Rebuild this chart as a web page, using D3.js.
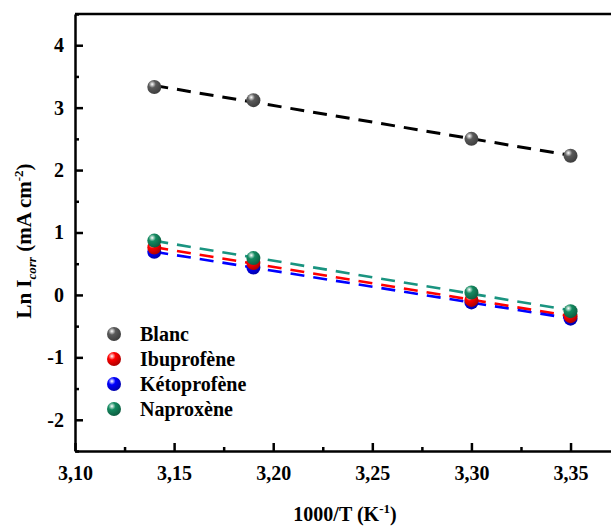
<!DOCTYPE html>
<html>
<head>
<meta charset="utf-8">
<script src="https://cdn.jsdelivr.net/npm/d3@7"></script>
<style>
    body { margin: 0; background: #fff; }
    svg { display: block; }
    text { font-family: "Liberation Serif", "Times New Roman", serif; font-weight: bold; }
</style>
</head>
<body>
<svg id="chart"></svg>
<script>
    // values
    const invT = [3.14, 3.19, 3.30, 3.35];
    const blanc = [3.33, 3.12, 2.50, 2.23];
    const ibuprofene = [0.76, 0.51, -0.08, -0.34];
    const ketoprofene = [0.69, 0.44, -0.12, -0.38];
    const naproxene = [0.87, 0.59, 0.04, -0.26];
    const seriesNames = ['Blanc', 'Ibuprofène', 'Kétoprofène', 'Naproxène'];
    const xTicks = [3.10, 3.15, 3.20, 3.25, 3.30, 3.35];
    const yTicks = [-2, -1, 0, 1, 2, 3, 4];

    (function () {
        const width = 611, height = 526;
        const svg = d3.select('#chart').attr('width', width).attr('height', height);

        const x = d3.scaleLinear().domain([3.10, 3.38]).range([75, 630]);
        const y = d3.scaleLinear().domain([-2.5, 4.5]).range([451, 14]);

        const series = [
            {name: seriesNames[0], values: blanc, color: '#5a5a5a', line: '#000000'},
            {name: seriesNames[1], values: ibuprofene, color: '#ff0000', line: '#ff0000'},
            {name: seriesNames[2], values: ketoprofene, color: '#0000ff', line: '#0000ff'},
            {name: seriesNames[3], values: naproxene, color: '#148a60', line: '#1a9480'}
        ];

        // sphere gradients
        const defs = svg.append('defs');
        series.forEach(function (s, i) {
            const g = defs.append('radialGradient')
                .attr('id', 'ball' + i)
                .attr('cx', '35%').attr('cy', '30%').attr('r', '75%');
            g.append('stop').attr('offset', '0%').attr('stop-color', '#ffffff');
            g.append('stop').attr('offset', '35%').attr('stop-color', s.color);
            g.append('stop').attr('offset', '100%').attr('stop-color', d3.color(s.color).darker(1.2));
        });

        function fit(xs, ys) {
            const mx = d3.mean(xs), my = d3.mean(ys);
            const b = d3.sum(xs, (v, i) => (v - mx) * (ys[i] - my)) / d3.sum(xs, v => (v - mx) * (v - mx));
            return {a: my - b * mx, b: b};
        }

        const isMajorX = d => xTicks.some(t => Math.abs(t - d) < 1e-6);
        const isMajorY = d => yTicks.indexOf(d) >= 0;

        // axes, ticks pointing inward
        const xAxis = d3.axisBottom(x)
            .tickValues(d3.range(3.10, 3.39, 0.025))
            .tickSizeInner(-8).tickSizeOuter(0)
            .tickFormat(d => isMajorX(d) ? d3.format('.2f')(d).replace('.', ',') : '');
        const gx = svg.append('g').attr('transform', 'translate(0,' + y(-2.5) + ')').call(xAxis);
        gx.selectAll('.tick line').attr('y2', d => isMajorX(d) ? -8 : -4);
        gx.selectAll('.tick text').attr('y', 15).style('font-size', '20px').style('font-family', null);

        const yAxis = d3.axisLeft(y)
            .tickValues(d3.range(-2.5, 4.51, 0.5))
            .tickSizeInner(-8).tickSizeOuter(0)
            .tickFormat(d => isMajorY(d) ? String(d) : '');
        const gy = svg.append('g').attr('transform', 'translate(' + x(3.10) + ',0)').call(yAxis);
        gy.selectAll('.tick line').attr('x2', d => isMajorY(d) ? 8 : 4);
        gy.selectAll('.tick text').attr('x', -11).style('font-size', '20px').style('font-family', null);

        svg.selectAll('.domain').attr('stroke', '#000').attr('stroke-width', 2.5);
        svg.selectAll('.tick line').attr('stroke', '#000').attr('stroke-width', 2.5);

        svg.append('line')
            .attr('x1', x(3.10)).attr('x2', width)
            .attr('y1', y(4.5)).attr('y2', y(4.5))
            .attr('stroke', '#000').attr('stroke-width', 2.5);

        // fitted dashed lines
        series.forEach(function (s) {
            const f = fit(invT, s.values);
            const x0 = invT[0], x1 = invT[invT.length - 1];
            svg.append('line')
                .attr('x1', x(x0)).attr('y1', y(f.a + f.b * x0))
                .attr('x2', x(x1)).attr('y2', y(f.a + f.b * x1))
                .attr('stroke', s.line)
                .attr('stroke-width', s.line === '#000000' ? 3 : 2.6)
                .attr('stroke-dasharray', '14,9');
        });

        // markers, drawn after lines
        [2, 1, 3, 0].forEach(function (i) {
            const s = series[i];
            svg.append('g').selectAll('circle')
                .data(invT)
                .enter()
                .append('circle')
                .attr('cx', d => x(d))
                .attr('cy', (d, j) => y(s.values[j]))
                .attr('r', 7)
                .attr('fill', 'url(#ball' + i + ')');
        });

        // legend
        const legend = svg.append('g');
        series.forEach(function (s, i) {
            const ly = 334 + i * 25;
            legend.append('circle')
                .attr('cx', 114).attr('cy', ly).attr('r', 7)
                .attr('fill', 'url(#ball' + i + ')');
            legend.append('text')
                .attr('x', 140).attr('y', ly + 7)
                .style('font-size', '20px')
                .text(s.name);
        });

        // axis titles
        svg.append('text')
            .attr('x', 345).attr('y', 521)
            .attr('text-anchor', 'middle')
            .style('font-size', '20px')
            .html('1000/T (K<tspan dy="-8" font-size="13px">-1</tspan><tspan dy="8">)</tspan>');

        svg.append('text')
            .attr('transform', 'translate(31,241) rotate(-90)')
            .attr('text-anchor', 'middle')
            .style('font-size', '21px')
            .html('Ln I<tspan dy="5" font-size="13px" font-style="italic">corr</tspan><tspan dy="-5"> (mA cm</tspan><tspan dy="-8" font-size="13px">-2</tspan><tspan dy="8">)</tspan>');
    })();
</script>
</body>
</html>
